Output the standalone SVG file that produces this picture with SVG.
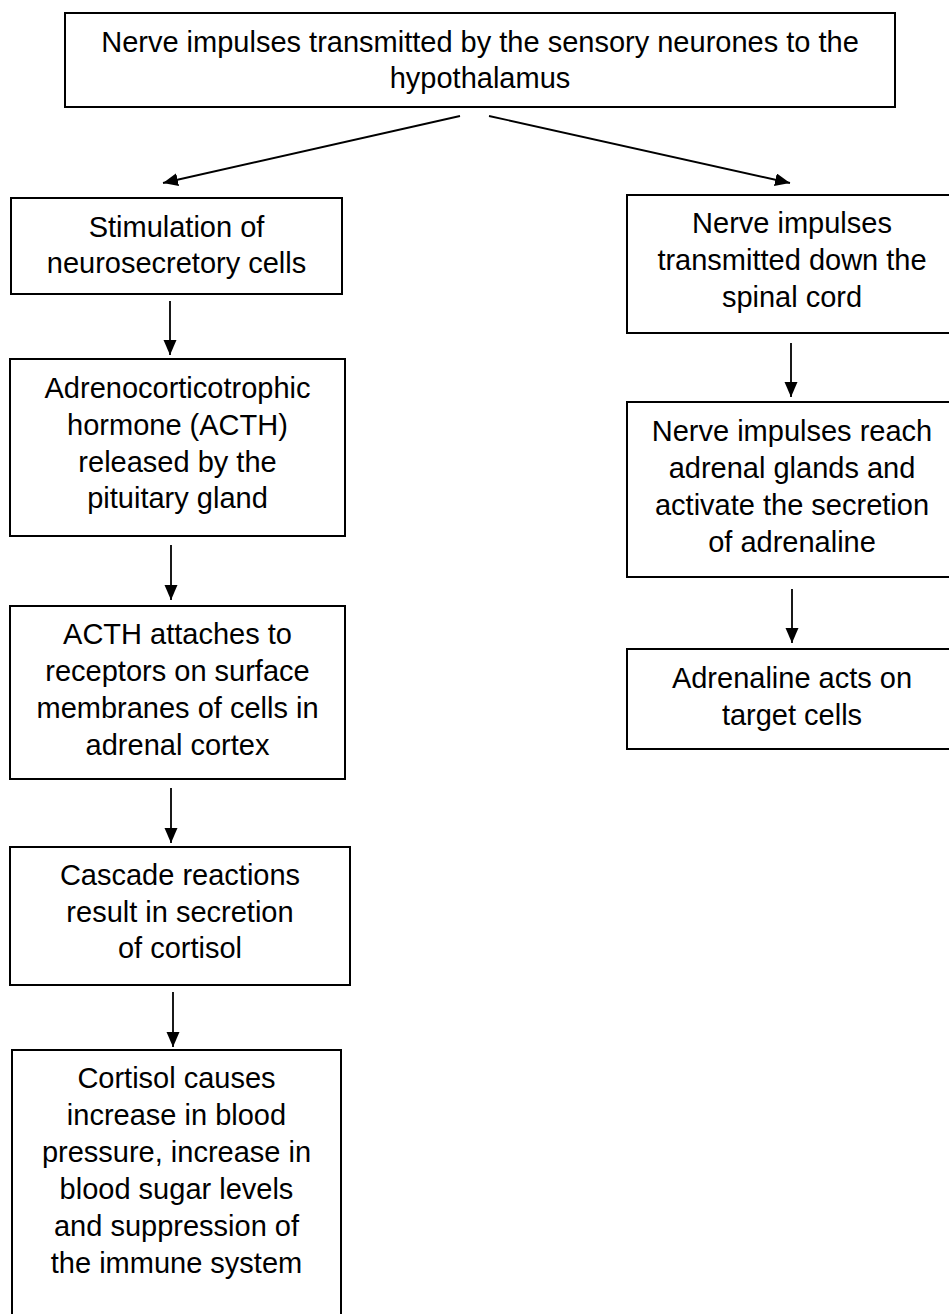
<svg xmlns="http://www.w3.org/2000/svg" width="949" height="1314" viewBox="0 0 949 1314">
<style>
.box{fill:#fff;stroke:#000;stroke-width:2}
.t{font-family:"Liberation Sans",Arial,sans-serif;font-size:29px;fill:#000;text-anchor:middle}
.c{stroke:#000;stroke-width:1.8;fill:none;marker-end:url(#ah)}
</style>
<defs>
<marker id="ah" markerUnits="userSpaceOnUse" markerWidth="16" markerHeight="14" refX="15" refY="6.5" orient="auto">
<path d="M0,0 L15,6.5 L0,13 z" fill="#000"/>
</marker>
</defs>
<rect width="949" height="1314" fill="#fff"/>
<g id="connectors">
<line class="c" x1="460" y1="116" x2="163" y2="183"/>
<line class="c" x1="489" y1="116" x2="790" y2="183"/>
<line class="c" x1="170" y1="301" x2="170" y2="355"/>
<line class="c" x1="171" y1="545" x2="171" y2="600"/>
<line class="c" x1="171" y1="788" x2="171" y2="843"/>
<line class="c" x1="173" y1="992" x2="173" y2="1047"/>
<line class="c" x1="791" y1="343" x2="791" y2="397"/>
<line class="c" x1="792" y1="589" x2="792" y2="643"/>
</g>
<g id="top">
<rect class="box" x="65" y="13" width="830" height="94"/>
<text class="t" x="480" y="52">Nerve impulses transmitted by the sensory neurones to the</text>
<text class="t" x="480" y="88">hypothalamus</text>
</g>
<g id="stimulation">
<rect class="box" x="11" y="198" width="331" height="96"/>
<text class="t" x="176.5" y="237">Stimulation of</text>
<text class="t" x="176.5" y="273">neurosecretory cells</text>
</g>
<g id="acth">
<rect class="box" x="10" y="359" width="335" height="177"/>
<text class="t" x="177.5" y="398">Adrenocorticotrophic</text>
<text class="t" x="177.5" y="435">hormone (ACTH)</text>
<text class="t" x="177.5" y="472">released by the</text>
<text class="t" x="177.5" y="508">pituitary gland</text>
</g>
<g id="attach">
<rect class="box" x="10" y="606" width="335" height="173"/>
<text class="t" x="177.5" y="644">ACTH attaches to</text>
<text class="t" x="177.5" y="681">receptors on surface</text>
<text class="t" x="177.5" y="718">membranes of cells in</text>
<text class="t" x="177.5" y="755">adrenal cortex</text>
</g>
<g id="cascade">
<rect class="box" x="10" y="847" width="340" height="138"/>
<text class="t" x="180" y="885">Cascade reactions</text>
<text class="t" x="180" y="922">result in secretion</text>
<text class="t" x="180" y="958">of cortisol</text>
</g>
<g id="cortisol">
<rect class="box" x="12" y="1050" width="329" height="290"/>
<text class="t" x="176.5" y="1088">Cortisol causes</text>
<text class="t" x="176.5" y="1125">increase in blood</text>
<text class="t" x="176.5" y="1162">pressure, increase in</text>
<text class="t" x="176.5" y="1199">blood sugar levels</text>
<text class="t" x="176.5" y="1236">and suppression of</text>
<text class="t" x="176.5" y="1273">the immune system</text>
</g>
<g id="spinal">
<rect class="box" x="627" y="195" width="330" height="138"/>
<text class="t" x="792" y="233">Nerve impulses</text>
<text class="t" x="792" y="270">transmitted down the</text>
<text class="t" x="792" y="307">spinal cord</text>
</g>
<g id="adrenal">
<rect class="box" x="627" y="402" width="330" height="175"/>
<text class="t" x="792" y="441">Nerve impulses reach</text>
<text class="t" x="792" y="478">adrenal glands and</text>
<text class="t" x="792" y="515">activate the secretion</text>
<text class="t" x="792" y="552">of adrenaline</text>
</g>
<g id="target">
<rect class="box" x="627" y="649" width="330" height="100"/>
<text class="t" x="792" y="688">Adrenaline acts on</text>
<text class="t" x="792" y="725">target cells</text>
</g>
</svg>
